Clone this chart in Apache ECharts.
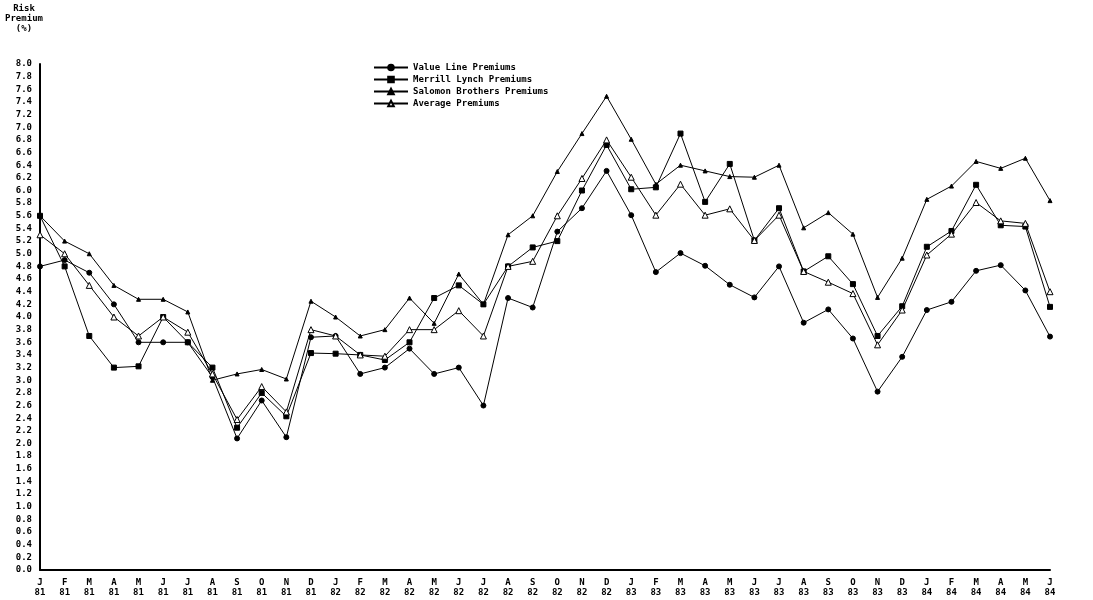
<!DOCTYPE html>
<html>
<head>
<meta charset="utf-8">
<script src="https://cdn.jsdelivr.net/npm/echarts@6/dist/echarts.min.js"></script>
<style>
  html, body { margin: 0; padding: 0; background: #fff; }
  #chart { width: 1093px; height: 600px; }
</style>
</head>
<body>
<div id="chart"></div>
<script>
const months = ["J","F","M","A","M","J","J","A","S","O","N","D",
                "J","F","M","A","M","J","J","A","S","O","N","D",
                "J","F","M","A","M","J","J","A","S","O","N","D",
                "J","F","M","A","M","J"];
const years = ["81","81","81","81","81","81","81","81","81","81","81","81",
               "82","82","82","82","82","82","82","82","82","82","82","82",
               "83","83","83","83","83","83","83","83","83","83","83","83",
               "84","84","84","84","84","84"];
const categories = months.map((m, i) => m + "\n" + years[i]);

const valueLine = [4.8, 4.9, 4.7, 4.2, 3.6, 3.6, 3.6, 3.05, 2.08, 2.68, 2.1, 3.68,
                   3.7, 3.1, 3.2, 3.5, 3.1, 3.2, 2.6, 4.3, 4.15, 5.35, 5.72, 6.31,
                   5.61, 4.71, 5.01, 4.81, 4.51, 4.31, 4.8, 3.91, 4.12, 3.66, 2.82, 3.37,
                   4.11, 4.24, 4.73, 4.82, 4.42, 3.69];
const merrillLynch = [5.6, 4.8, 3.7, 3.2, 3.22, 4.0, 3.6, 3.2, 2.25, 2.8, 2.43, 3.43,
                      3.42, 3.4, 3.32, 3.6, 4.3, 4.5, 4.2, 4.8, 5.1, 5.2, 6.0, 6.72,
                      6.02, 6.05, 6.9, 5.82, 6.42, 5.21, 5.72, 4.72, 4.96, 4.52, 3.7, 4.17,
                      5.11, 5.36, 6.09, 5.45, 5.43, 4.16];
const salomon = [5.6, 5.2, 5.0, 4.5, 4.28, 4.28, 4.08, 3.0, 3.1, 3.17, 3.02, 4.25,
                 4.0, 3.7, 3.8, 4.3, 3.9, 4.68, 4.2, 5.3, 5.6, 6.3, 6.9, 7.49,
                 6.81, 6.1, 6.4, 6.31, 6.22, 6.21, 6.4, 5.41, 5.65, 5.31, 4.31, 4.93,
                 5.86, 6.07, 6.46, 6.35, 6.51, 5.84];
const average = [5.3, 5.0, 4.5, 4.0, 3.7, 4.0, 3.76, 3.1, 2.38, 2.9, 2.5, 3.8,
                 3.7, 3.4, 3.38, 3.8, 3.8, 4.1, 3.7, 4.8, 4.88, 5.6, 6.19, 6.8,
                 6.21, 5.61, 6.1, 5.61, 5.71, 5.21, 5.61, 4.72, 4.55, 4.37, 3.56, 4.11,
                 4.98, 5.31, 5.81, 5.52, 5.48, 4.4];
const seriesNames = ["Value Line Premiums", "Merrill Lynch Premiums",
                     "Salomon Brothers Premiums", "Average Premiums"];

const FONT = "DejaVu Sans Mono";
const chart = echarts.init(document.getElementById('chart'), null, { renderer: 'canvas' });

function mkSeries(name, data, symbol, size, fill) {
  return {
    name: name, type: 'line', data: data,
    symbol: symbol, symbolSize: size, showSymbol: true,
    lineStyle: { color: '#000', width: 1 },
    itemStyle: { color: fill, borderColor: '#000', borderWidth: 1 },
    emphasis: { disabled: true },
    animation: false, z: 3
  };
}

chart.setOption({
  backgroundColor: '#fff',
  animation: false,
  graphic: [{
    type: 'text', x: 24, y: 4,
    style: {
      text: 'Risk\nPremium\n(%)', fill: '#000', align: 'center', verticalAlign: 'top',
      font: 'bold 9px "' + FONT + '"', lineHeight: 10
    }
  }],
  legend: {
    orient: 'vertical', left: 368, top: 58, itemGap: 3,
    itemWidth: 34, itemHeight: 7,
    textStyle: { fontFamily: FONT, fontSize: 9, fontWeight: 'bold', color: '#000' },
    data: seriesNames
  },
  grid: { left: 40, right: 43, top: 64, bottom: 30, containLabel: false },
  xAxis: {
    type: 'category', data: categories, boundaryGap: false,
    axisLine: { lineStyle: { color: '#000', width: 2 } },
    axisTick: { show: false },
    axisLabel: { interval: 0, fontFamily: FONT, fontSize: 9, fontWeight: 'bold',
                 color: '#000', lineHeight: 10, margin: 8 },
    splitLine: { show: false }
  },
  yAxis: {
    type: 'value', min: 0, max: 8, interval: 0.2,
    axisLine: { show: true, lineStyle: { color: '#000', width: 2 } },
    axisTick: { show: false },
    axisLabel: { fontFamily: FONT, fontSize: 9, fontWeight: 'bold', color: '#000',
                 margin: 8, formatter: v => v.toFixed(1) },
    splitLine: { show: false }
  },
  series: [
    mkSeries(seriesNames[0], valueLine, 'circle', 5, '#000'),
    mkSeries(seriesNames[1], merrillLynch, 'rect', 5, '#000'),
    mkSeries(seriesNames[2], salomon, 'triangle', 4, '#000'),
    mkSeries(seriesNames[3], average, 'triangle', 6, '#fff')
  ]
});
</script>
</body>
</html>
